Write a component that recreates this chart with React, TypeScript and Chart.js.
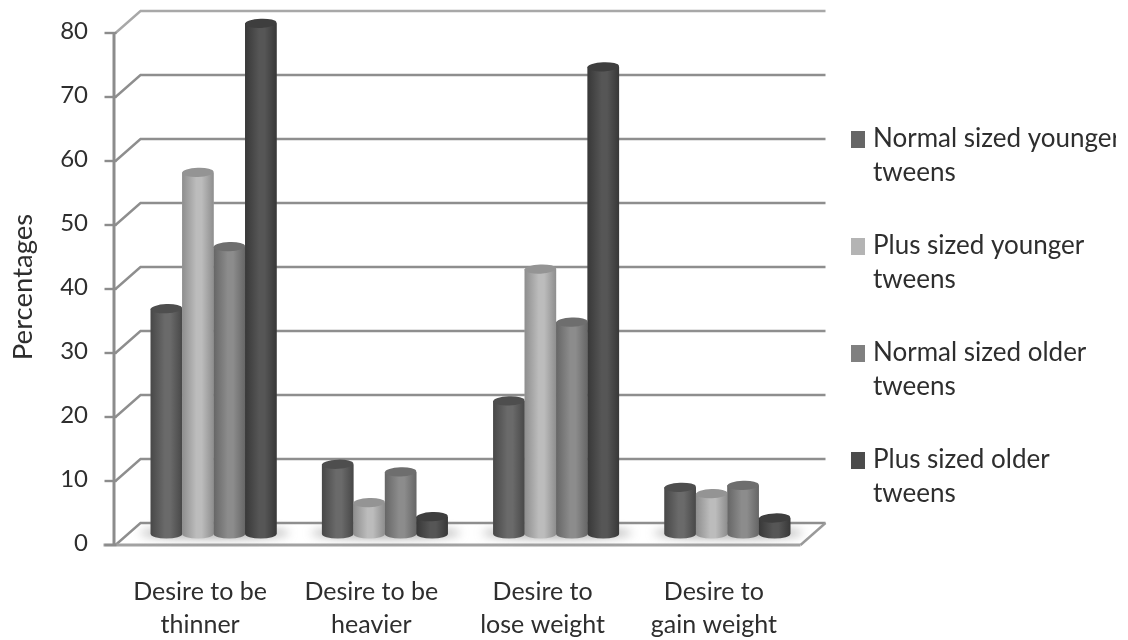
import React, { useEffect, useRef } from "react";
import Chart from "chart.js/auto";

const categories = [
  ["Desire to be", "thinner"],
  ["Desire to be", "heavier"],
  ["Desire to", "lose weight"],
  ["Desire to", "gain weight"],
];
const seriesNames = [
  "Normal sized younger tweens",
  "Plus sized younger tweens",
  "Normal sized older tweens",
  "Plus sized older tweens",
];
const normalYounger = [35.2, 10.9, 20.8, 7.3];
const plusYounger = [56.5, 4.9, 41.4, 6.3];
const normalOlder = [44.9, 9.7, 33.1, 7.6];
const plusOlder = [79.8, 2.7, 73, 2.5];

// [edge, centre, cap] tones of each cylinder
const tones = [
  ["#484848", "#6a6a6a", "#4e4e4e"],
  ["#8e8e8e", "#bcbcbc", "#949494"],
  ["#666666", "#8c8c8c", "#6e6e6e"],
  ["#383838", "#565656", "#3e3e3e"],
];
const legendSwatches = ["#666666", "#b4b4b4", "#808080", "#4c4c4c"];

const FONT = "Lato";
const TEXT = "#2e2e2e";
const DEPTH_X = 12.5;
const DEPTH_Y = 11;
const CAP_RY = 4.6;

const frame3d = {
  id: "frame3d",
  beforeDatasetsDraw(chart: any) {
    const { ctx, chartArea: a, scales } = chart;
    const y = scales.y;
    ctx.save();
    ctx.lineCap = "butt";

    const baseY = y.getPixelForValue(0);
    const fl = a.left - DEPTH_X;
    const fr = a.right - DEPTH_X;
    const bl = a.left + DEPTH_X;
    const br = a.right + DEPTH_X;

    // back wall gridlines and their return along the side wall
    for (const t of y.ticks) {
      const p = y.getPixelForValue(t.value);
      ctx.strokeStyle = t.value === 80 ? "#a8a8a8" : "#8e8e8e";
      ctx.lineWidth = 2.4;
      ctx.beginPath();
      ctx.moveTo(fl, p + DEPTH_Y);
      ctx.lineTo(bl, p - DEPTH_Y);
      ctx.lineTo(br, p - DEPTH_Y);
      ctx.stroke();
    }

    // floor edges
    ctx.strokeStyle = "#9a9a9a";
    ctx.lineWidth = 2.4;
    ctx.beginPath();
    ctx.moveTo(br, baseY - DEPTH_Y);
    ctx.lineTo(fr, baseY + DEPTH_Y);
    ctx.stroke();
    ctx.strokeStyle = "#a2a2a2";
    ctx.lineWidth = 3;
    ctx.beginPath();
    ctx.moveTo(fl - 12, baseY + DEPTH_Y);
    ctx.lineTo(fr, baseY + DEPTH_Y);
    ctx.stroke();

    // value axis and tick marks on the front plane
    ctx.strokeStyle = "#8c8c8c";
    ctx.lineWidth = 3;
    ctx.beginPath();
    ctx.moveTo(fl - 1.5, y.getPixelForValue(80) + DEPTH_Y);
    ctx.lineTo(fl - 1.5, baseY + DEPTH_Y);
    ctx.stroke();
    ctx.lineWidth = 2.4;
    for (const t of y.ticks) {
      const p = y.getPixelForValue(t.value) + DEPTH_Y;
      ctx.beginPath();
      ctx.moveTo(fl - 11, p);
      ctx.lineTo(fl + 1, p);
      ctx.stroke();
    }

    // soft floor shadow under each group
    const first = chart.getDatasetMeta(0).data;
    const last = chart.getDatasetMeta(chart.data.datasets.length - 1).data;
    ctx.filter = "blur(5px)";
    ctx.fillStyle = "rgba(120,120,120,0.55)";
    first.forEach((bar: any, i: number) => {
      const x0 = bar.x - bar.width / 2;
      const x1 = last[i].x + last[i].width / 2;
      ctx.beginPath();
      ctx.ellipse((x0 + x1) / 2 + 1, baseY - 1, (x1 - x0) / 2 + 12, 6, 0, 0, Math.PI * 2);
      ctx.fill();
    });
    ctx.filter = "none";
    ctx.restore();
  },
  afterDatasetsDraw(chart: any) {
    const { ctx } = chart;
    ctx.save();
    chart.data.datasets.forEach((_: any, s: number) => {
      const [edge, mid, cap] = tones[s];
      chart.getDatasetMeta(s).data.forEach((bar: any) => {
        const rx = bar.width / 2;
        const g = ctx.createLinearGradient(bar.x - rx, 0, bar.x + rx, 0);
        g.addColorStop(0, edge);
        g.addColorStop(0.45, mid);
        g.addColorStop(0.62, mid);
        g.addColorStop(1, edge);
        ctx.fillStyle = g;
        ctx.beginPath();
        ctx.moveTo(bar.x - rx, bar.y);
        ctx.lineTo(bar.x - rx, bar.base);
        ctx.ellipse(bar.x, bar.base, rx, CAP_RY, 0, Math.PI, 0, true);
        ctx.lineTo(bar.x + rx, bar.y);
        ctx.closePath();
        ctx.fill();
        ctx.fillStyle = cap;
        ctx.beginPath();
        ctx.ellipse(bar.x, bar.y, rx, CAP_RY, -0.04, 0, Math.PI * 2);
        ctx.fill();
      });
    });
    ctx.restore();
  },
  afterDraw(chart: any) {
    const { ctx } = chart;
    ctx.save();
    ctx.fillStyle = TEXT;
    ctx.textBaseline = "middle";

    // axis title
    ctx.save();
    ctx.translate(23, 287);
    ctx.rotate(-Math.PI / 2);
    ctx.textAlign = "center";
    ctx.font = `27.5px ${FONT}`;
    ctx.fillText("Percentages", 0, 0);
    ctx.restore();

    // two-line legend entries
    ctx.textAlign = "left";
    ctx.font = `26px ${FONT}`;
    chart.data.datasets.forEach((ds: any, i: number) => {
      const top = 139 + i * 107;
      const cut = ds.label.lastIndexOf(" ");
      ctx.fillStyle = legendSwatches[i];
      ctx.fillRect(851, top - 8, 14, 17);
      ctx.fillStyle = TEXT;
      ctx.fillText(ds.label.slice(0, cut), 873, top);
      ctx.fillText(ds.label.slice(cut + 1), 873, top + 34);
    });
    ctx.restore();
  },
};

export default function App() {
  const ref = useRef<HTMLCanvasElement>(null);
  useEffect(() => {
    const chart = new Chart(ref.current!, {
      type: "bar",
      data: {
        labels: categories,
        datasets: [normalYounger, plusYounger, normalOlder, plusOlder].map((data, i) => ({
          label: seriesNames[i],
          data,
          backgroundColor: legendSwatches[i],
          borderWidth: 0,
          barPercentage: 1,
          categoryPercentage: 0.735,
        })),
      },
      options: {
        animation: false,
        responsive: false,
        layout: { padding: { top: 22, right: 303, bottom: 0, left: 0 } },
        plugins: { legend: { display: false }, tooltip: { enabled: false } },
        scales: {
          x: {
            grid: { display: false, drawTicks: false },
            border: { display: false },
            afterFit(s: any) {
              s.height = 106;
              s.paddingLeft = 0;
              s.paddingRight = 0;
            },
            ticks: {
              color: TEXT,
              font: { family: FONT, size: 25, lineHeight: 1.32 },
              padding: 41,
              maxRotation: 0,
              autoSkip: false,
              labelOffset: -13.5,
            },
          },
          y: {
            min: 0,
            max: 80,
            grid: { display: false, drawTicks: false },
            border: { display: false },
            afterFit(s: any) {
              s.width = 128;
              s.paddingTop = 0;
              s.paddingBottom = 0;
            },
            ticks: {
              stepSize: 10,
              color: TEXT,
              font: { family: FONT, size: 24 },
              padding: 40,
              labelOffset: 9,
            },
          },
        },
      },
      plugins: [frame3d],
    } as any);
    return () => chart.destroy();
  }, []);
  return (
    <div style={{ position: "fixed", left: 0, top: 0, width: 1116, height: 640, background: "#fff" }}>
      <canvas ref={ref} width={1116} height={640} style={{ display: "block" }} />
    </div>
  );
}
